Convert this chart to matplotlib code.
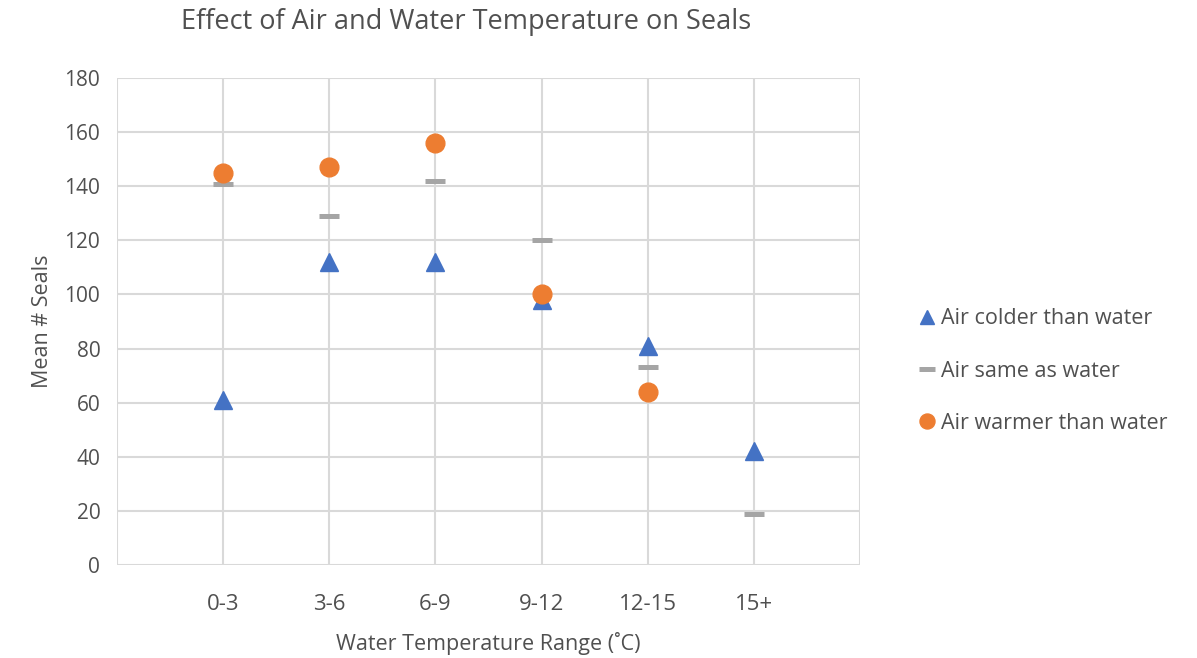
import matplotlib
matplotlib.use("Agg")
import matplotlib.pyplot as plt

categories = ["0-3", "3-6", "6-9", "9-12", "12-15", "15+"]
air_colder = [61, 112, 112, 98, 81, 42]
air_same = [141, 129, 142, 120, 73, 19]
air_warmer = [145, 147, 156, 100, 64, None]

plt.rcParams['font.family'] = ['Open Sans', 'DejaVu Sans']
txt = '#505050'

fig = plt.figure(figsize=(11.97, 6.58), dpi=100)
ax = fig.add_axes([0.0977, 0.1413, 0.6208, 0.7402])

xs = list(range(1, len(categories) + 1))

ax.plot(xs, air_colder, linestyle='none', marker='^', markersize=13,
        color='#4472C4', label='Air colder than water', zorder=3)
ax.plot(xs, air_same, linestyle='none', marker='_', markersize=14.5,
        markeredgewidth=3.6, color='#A5A5A5', label='Air same as water', zorder=3)
wx = [x for x, v in zip(xs, air_warmer) if v is not None]
wv = [v for v in air_warmer if v is not None]
ax.plot(wx, wv, linestyle='none', marker='o', markersize=13.5,
        color='#ED7D31', label='Air warmer than water', zorder=4)

ax.set_xlim(0, 7)
ax.set_ylim(0, 180)
ax.set_yticks(range(0, 181, 20))
ax.set_xticks(range(0, 8))
ax.set_xticklabels([""] + categories + [""])
ax.grid(True, color='#D9D9D9', linewidth=1.5, zorder=0)
ax.set_axisbelow(True)
for s in ax.spines.values():
    s.set_visible(False)
ax.tick_params(axis='y', length=0, labelsize=15, colors=txt, pad=12)
ax.tick_params(axis='x', length=0, labelsize=16, colors=txt, pad=21)

ax.set_xlabel("Water Temperature Range (˚C)", fontsize=15.5, color=txt, labelpad=12)
ax.set_ylabel("Mean # Seals", fontsize=15.5, color=txt, labelpad=8)
fig.text(0.389, 0.966, "Effect of Air and Water Temperature on Seals",
         ha='center', va='center', fontsize=19.5, color=txt)

leg = ax.legend(loc='center left', bbox_to_anchor=(1.065, 0.398), frameon=False,
                fontsize=15.5, handlelength=0.75, handletextpad=0.25, labelspacing=1.45,
                borderpad=0, markerscale=0.8, labelcolor=txt)

fig.savefig("out.png", dpi=100)
